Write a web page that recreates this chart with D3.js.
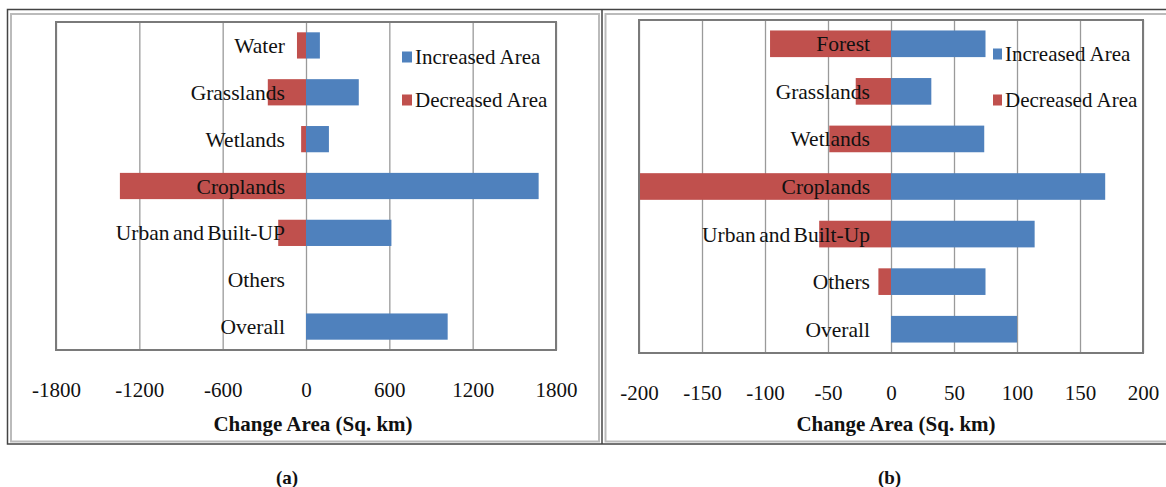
<!DOCTYPE html>
<html>
<head>
<meta charset="utf-8">
<script src="https://cdn.jsdelivr.net/npm/d3@7"></script>
<style>
  html, body { margin: 0; padding: 0; background: #fff; }
  svg { display: block; }
</style>
</head>
<body>
<svg id="fig" width="1166" height="487"></svg>
<script>
// Land-cover change, panel (a)
const categoriesA = ["Water", "Grasslands", "Wetlands", "Croplands", "Urban and Built-UP", "Others", "Overall"];
const increasedA  = [100, 380, 165, 1675, 615, 0, 1020];
const decreasedA  = [-65, -275, -35, -1340, -200, 0, 0];
const ticksA      = [-1800, -1200, -600, 0, 600, 1200, 1800];

// Land-cover change, panel (b)
const categoriesB = ["Forest", "Grasslands", "Wetlands", "Croplands", "Urban and Built-Up", "Others", "Overall"];
const increasedB  = [75, 32, 74, 170, 114, 75, 100];
const decreasedB  = [-96, -28, -49, -200, -57, -10, 0];
const ticksB      = [-200, -150, -100, -50, 0, 50, 100, 150, 200];

const seriesNames = ["Increased Area", "Decreased Area"];
const axisTitle = "Change Area (Sq. km)";

const BLUE = "#4F81BD", RED = "#C0504D";
const SERIF = "'Liberation Serif', 'DejaVu Serif', serif";
const svg = d3.select("#fig");

function serif(sel, size, bold) {
  return sel.style("font-family", SERIF).style("font-size", size + "px")
    .style("font-weight", bold ? "bold" : "normal").style("fill", "#111");
}

// Outer frame line across the top/sides and the divider between panels
const frame = svg.append("g");
frame.append("rect").attr("x", 7.5).attr("y", 9.5).attr("width", 1170).attr("height", 434.5)
  .attr("fill", "none").attr("stroke", "#444").attr("stroke-width", 1.5);
frame.append("line").attr("x1", 602).attr("x2", 602).attr("y1", 9.5).attr("y2", 444)
  .attr("stroke", "#444").attr("stroke-width", 1.5);
// inner light border of each panel
frame.append("rect").attr("x", 11).attr("y", 14).attr("width", 588).attr("height", 427.5)
  .attr("fill", "none").attr("stroke", "#bbb").attr("stroke-width", 2);
frame.append("rect").attr("x", 605.5).attr("y", 14).attr("width", 580).attr("height", 427.5)
  .attr("fill", "none").attr("stroke", "#bbb").attr("stroke-width", 2);

function panel(cfg) {
  const g = svg.append("g");
  const x = d3.scaleLinear().domain(cfg.domain).range([cfg.left, cfg.right]);
  const y = d3.scaleBand().domain(cfg.categories).range([cfg.top, cfg.bottom]).paddingInner(0.44).paddingOuter(0.22);
  const h = cfg.bottom - cfg.top;

  // vertical gridlines
  g.append("g")
    .attr("transform", `translate(0,${cfg.bottom})`)
    .call(d3.axisBottom(x).tickValues(cfg.ticks).tickSize(-h).tickFormat(""))
    .call(s => s.select(".domain").remove())
    .call(s => s.selectAll("line").attr("stroke", "#9a9a9a").attr("stroke-width", 1.3));

  const rows = cfg.categories.map((c, i) => ({ c, inc: cfg.inc[i], dec: cfg.dec[i] }));

  // decreased (negative) bars
  g.selectAll("rect.dec").data(rows.filter(d => d.dec !== 0)).join("rect")
    .attr("class", "dec")
    .attr("x", d => x(d.dec)).attr("width", d => x(0) - x(d.dec))
    .attr("y", d => y(d.c)).attr("height", y.bandwidth())
    .attr("fill", RED);
  // increased (positive) bars
  g.selectAll("rect.inc").data(rows.filter(d => d.inc !== 0)).join("rect")
    .attr("class", "inc")
    .attr("x", x(0)).attr("width", d => x(d.inc) - x(0))
    .attr("y", d => y(d.c)).attr("height", y.bandwidth())
    .attr("fill", BLUE);

  // plot area border
  g.append("rect").attr("x", cfg.left).attr("y", cfg.top)
    .attr("width", cfg.right - cfg.left).attr("height", h)
    .attr("fill", "none").attr("stroke", "#7a7a7a").attr("stroke-width", 2);

  // category labels sit just left of the zero line
  g.selectAll("text.cat").data(cfg.categories).join("text")
    .attr("class", "cat")
    .attr("x", x(0) - 21)
    .attr("y", d => y(d) + y.bandwidth() / 2)
    .attr("dy", "0.35em")
    .attr("text-anchor", "end")
    .style("word-spacing", "-2px")
    .call(serif, 21.5)
    .text(d => d);

  // value axis tick labels
  g.append("g")
    .attr("transform", `translate(0,${cfg.tickY})`)
    .call(d3.axisBottom(x).tickValues(cfg.ticks).tickSize(0).tickPadding(0).tickFormat(d => String(d)))
    .call(s => s.select(".domain").remove())
    .call(s => s.selectAll("text").attr("dy", 0).call(serif, 21));

  // axis title
  g.append("text")
    .attr("x", cfg.titleX).attr("y", 431)
    .attr("text-anchor", "middle")
    .call(serif, 21, true)
    .text(axisTitle);

  // legend
  const lg = g.append("g");
  seriesNames.forEach((name, i) => {
    const cy = cfg.legendY[i];
    lg.append("rect").attr("x", cfg.legendX).attr("y", cy - 5.5)
      .attr("width", cfg.legendSq).attr("height", 11)
      .attr("fill", i === 0 ? BLUE : RED);
    lg.append("text").attr("x", cfg.legendX + cfg.legendSq + 3).attr("y", cy)
      .attr("dy", "0.35em").call(serif, 21).text(name);
  });

  // caption
  svg.append("text")
    .attr("x", cfg.captionX).attr("y", 484)
    .attr("text-anchor", "middle")
    .call(serif, 19, true)
    .text(cfg.caption);
}

panel({
  categories: categoriesA, inc: increasedA, dec: decreasedA, ticks: ticksA,
  domain: [-1800, 1800], left: 56, right: 556, top: 22, bottom: 350,
  tickY: 397, titleX: 313, legendX: 402, legendSq: 10, legendY: [57, 100],
  captionX: 287, caption: "(a)"
});

panel({
  categories: categoriesB, inc: increasedB, dec: decreasedB, ticks: ticksB,
  domain: [-200, 200], left: 639, right: 1143, top: 20, bottom: 353,
  tickY: 400, titleX: 896, legendX: 993, legendSq: 9, legendY: [54, 100],
  captionX: 889.5, caption: "(b)"
});
</script>
</body>
</html>
